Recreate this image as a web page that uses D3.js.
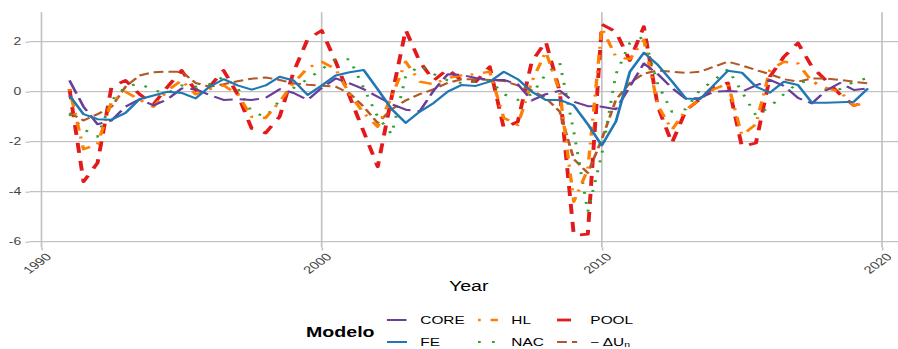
<!DOCTYPE html>
<html>
<head>
<meta charset="utf-8">
<script src="https://cdn.jsdelivr.net/npm/d3@7"></script>
<style>
  html, body { margin: 0; padding: 0; background: #fff; }
  svg { display: block; font-family: "Liberation Sans", Arial, Helvetica, sans-serif; }
</style>
</head>
<body>
<svg id="chart" width="898" height="349"></svg>
<script>
// Semi-annual observation dates
const years = [
  1991.0, 1991.5, 1992.0, 1992.5, 1993.0, 1993.5, 1994.0, 1994.5, 1995.0, 1995.5,
  1996.0, 1996.5, 1997.0, 1997.5, 1998.0, 1998.5, 1999.0, 1999.5, 2000.0, 2000.5,
  2001.0, 2001.5, 2002.0, 2002.5, 2003.0, 2003.5, 2004.0, 2004.5, 2005.0, 2005.5,
  2006.0, 2006.5, 2007.0, 2007.5, 2008.0, 2008.5, 2009.0, 2009.5, 2010.0, 2010.5,
  2011.0, 2011.5, 2012.0, 2012.5, 2013.0, 2013.5, 2014.0, 2014.5, 2015.0, 2015.5,
  2016.0, 2016.5, 2017.0, 2017.5, 2018.0, 2018.5, 2019.0, 2019.5
];

const core = [
  0.45, -0.6, -1.3, -1.15, -0.6, -0.3, -0.55, -0.3, 0.13, 0.1,
  -0.13, -0.33, -0.3, -0.33, -0.25, 0.1, -0.05, -0.33, 0.15, 0.53,
  0.33, 0.1, -0.2, -0.5, -0.72, -0.78, 0.05, 0.7, 0.67, 0.55,
  0.47, 0.47, 0.3, -0.35, -0.1, 0.04, -0.4, -0.58, -0.6, -0.7,
  0.2, 1.13, 0.7, 0.15, -0.28, -0.25, 0.0, 0.03, 0.0, 0.25,
  0.47, 0.23, -0.25, -0.47, 0.05, 0.35, 0.07, 0.13
];
const fe = [
  -0.15, -0.9, -1.1, -1.12, -0.85, -0.3, -0.15, 0.0, -0.05, -0.27,
  0.2, 0.5, 0.25, 0.08, 0.25, 0.6, 0.45, -0.13, 0.25, 0.65,
  0.78, 0.87, 0.1, -0.7, -1.25, -0.8, -0.45, 0.0, 0.27, 0.23,
  0.4, 0.8, 0.5, 0.0, -0.33, -0.33, -0.55, -1.3, -2.15, -1.2,
  0.8, 1.56, 1.07, 0.42, -0.27, -0.3, 0.27, 0.84, 0.76, 0.2,
  -0.04, 0.4, 0.27, -0.44, -0.44, -0.42, -0.4, 0.13
];
const hl = [
  0.1, -2.3, -2.1, -0.4, 0.0, -0.33, -0.6, 0.05, 0.45, -0.1,
  0.1, 0.25, -0.1, -1.0, -1.05, -0.4, 0.35, 0.95, 1.2, 0.9,
  -0.1, -0.85, -1.4, -0.2, 1.2, 0.4, 0.3, 0.55, 0.65, 0.7,
  0.8, -1.05, -1.33, 0.4, 1.6, 0.0, -4.4, -3.1, 2.55, 1.4,
  1.3, 2.07, -0.55, -1.53, -0.73, -0.3, 0.1, 0.33, -1.75, -1.3,
  0.87, 1.2, 1.13, 0.4, 0.15, 0.0, -0.55, -0.45
];
const nac = [
  -0.9, -1.5, -1.8, -0.35, 0.2, 0.33, 0.05, -0.05, 0.25, 0.2,
  0.3, 0.6, 0.15, -0.8, -1.0, -0.35, 0.15, 0.5, 0.9, 1.3,
  1.3, 0.15, -1.0, -1.7, 0.6, 1.05, 0.7, 0.45, 0.35, 0.4,
  0.45, -0.1, -0.33, -0.1, 0.7, 1.15, -1.6, -4.8, -2.5, 0.7,
  1.95, 2.2, 0.3, -0.8, -0.7, 0.07, 0.45, 0.9, 0.0, -0.95,
  -0.6, -0.1, 0.35, 0.45, 0.07, 0.1, 0.4, 0.55
];
const pool = [
  0.1, -3.6, -2.85, 0.2, 0.45, -0.1, -0.5, 0.2, 0.85, 0.05,
  0.2, 0.85, -0.1, -1.47, -1.65, -1.0, 0.8, 2.1, 2.45, 1.2,
  -0.2, -1.6, -3.0, -0.2, 2.47, 1.2, 0.45, 0.9, 0.45, 0.4,
  1.0, -1.45, -1.2, 1.2, 2.0, 0.0, -5.75, -5.7, 2.7, 2.4,
  1.25, 2.6, -0.6, -2.05, -0.75, -0.3, 0.2, 0.35, -2.2, -2.05,
  0.6, 1.4, 1.95, 1.0, 0.45, -0.1, -0.55, -0.4
];
const deltaU = [
  -0.85, -1.15, -0.9, -0.6, 0.2, 0.65, 0.78, 0.8, 0.8, 0.35,
  0.2, 0.3, 0.42, 0.52, 0.57, 0.47, 0.33, 0.28, 0.24, 0.2,
  -0.07, -0.6, -1.25, -0.7, -0.35, -0.1, 0.1, 0.35, 0.5, 0.5,
  0.47, 0.43, 0.25, 0.05, -0.25, -0.8, -2.7, -3.25, -1.9, -0.33,
  0.35, 0.72, 0.85, 0.8, 0.75, 0.8, 1.0, 1.2, 1.05, 0.87,
  0.7, 0.5, 0.4, 0.53, 0.53, 0.47, 0.4, 0.33
];

const xTicks = [1990, 2000, 2010, 2020];
const yTicks = [2, 0, -2, -4, -6];

// Series styling (legend order and drawing order are kept separate)
const series = [
  { key: "CORE",  values: core,   color: "#6a3d9a", width: 2.0, dash: "14,5" },
  { key: "FE",    values: fe,     color: "#1f78b4", width: 2.0, dash: null },
  { key: "HL",    values: hl,     color: "#ff7f00", width: 2.4, dash: "2,7,9,6" },
  { key: "NAC",   values: nac,    color: "#33a02c", width: 2.1, dash: "2,8" },
  { key: "POOL",  values: pool,   color: "#e31a1c", width: 2.8, dash: "10,8" },
  { key: "DU",    values: deltaU, color: "#b15928", width: 2.0, dash: "7,3.6" }
];
const drawOrder = ["POOL", "DU", "NAC", "HL", "CORE", "FE"];

// The whole figure is laid out in a narrower frame and widened horizontally.
const SX = 1.4;
const svg = d3.select("#chart");
const root = svg.append("g").attr("transform", `scale(${SX},1)`);

const x = d3.scaleLinear().domain([1990, 2020]).range([29.64, 630]);
const y = d3.scaleLinear().domain([2, -6]).range([41.7, 241.7]);

const panelL = x(1989.575), panelR = x(2020.925);
const panelT = y(3.18), panelB = y(-6.23);

const gridColor = "#c2c2c2";
const grid = root.append("g");
grid.selectAll("line.h").data(yTicks).join("line")
  .attr("x1", panelL).attr("x2", panelR)
  .attr("y1", d => y(d)).attr("y2", d => y(d))
  .attr("stroke", gridColor).attr("stroke-width", 1.2);
grid.selectAll("line.v").data(xTicks).join("line")
  .attr("x1", d => x(d)).attr("x2", d => x(d))
  .attr("y1", panelT).attr("y2", panelB)
  .attr("stroke", gridColor).attr("stroke-width", 1.2);

// Axes
const yAxis = d3.axisLeft(y).tickValues(yTicks).tickSize(3).tickPadding(3)
  .tickFormat(d => String(d));
const gy = root.append("g").attr("transform", `translate(${panelL},0)`).call(yAxis);
gy.select(".domain").remove();
gy.selectAll(".tick line").attr("stroke", gridColor).attr("stroke-width", 1.2);
gy.selectAll(".tick text").attr("fill", "#444").attr("font-size", 10)
  .attr("font-family", "Liberation Sans, Arial, sans-serif");

const xAxis = d3.axisBottom(x).tickValues(xTicks).tickSize(3).tickFormat(d3.format("d"));
const gx = root.append("g").attr("transform", `translate(0,${panelB})`).call(xAxis);
gx.select(".domain").remove();
gx.selectAll(".tick line").attr("stroke", gridColor).attr("stroke-width", 1.2);
gx.selectAll(".tick text")
  .attr("fill", "#444").attr("font-size", 10.5)
  .attr("font-family", "Liberation Sans, Arial, sans-serif")
  .attr("text-anchor", "end")
  .attr("y", 0).attr("dy", "0.7em")
  .attr("transform", "translate(2,5) rotate(-45)");

root.append("text")
  .attr("x", (panelL + panelR) / 2).attr("y", 291)
  .attr("text-anchor", "middle").attr("font-size", 14).attr("fill", "#000")
  .text("Year");

// Lines
const line = d3.line().x(d => x(d[0])).y(d => y(d[1]));
const byKey = Object.fromEntries(series.map(s => [s.key, s]));
const lines = root.append("g");
drawOrder.forEach(k => {
  const s = byKey[k];
  lines.append("path")
    .datum(years.map((yr, i) => [yr, s.values[i]]))
    .attr("d", line)
    .attr("fill", "none")
    .attr("stroke", s.color)
    .attr("stroke-width", s.width)
    .attr("stroke-linejoin", "round")
    .attr("stroke-linecap", "butt")
    .attr("stroke-dasharray", s.dash);
});

// Legend
const legend = root.append("g");
legend.append("text")
  .attr("x", 218.6).attr("y", 337)
  .attr("font-size", 14).attr("font-weight", "bold").attr("fill", "#000")
  .text("Modelo");

const colX = [276.4, 341.4, 397.9];
const rowY = [320, 342];
const keyW = 14.3;
series.forEach((s, i) => {
  const col = Math.floor(i / 2), row = i % 2;
  const kx = colX[col], ky = rowY[row];
  legend.append("line")
    .attr("x1", kx).attr("x2", kx + keyW)
    .attr("y1", ky).attr("y2", ky)
    .attr("stroke", s.color)
    .attr("stroke-width", s.width)
    .attr("stroke-dasharray", s.dash);
  const t = legend.append("text")
    .attr("x", kx + keyW + 9.5).attr("y", ky + 4)
    .attr("font-size", 11).attr("fill", "#000");
  if (s.key === "DU") {
    t.append("tspan").text("\u2212 \u0394U");
    t.append("tspan").attr("font-size", 7.5).attr("dy", 1.5).text("n");
  } else {
    t.text(s.key);
  }
});
</script>
</body>
</html>
